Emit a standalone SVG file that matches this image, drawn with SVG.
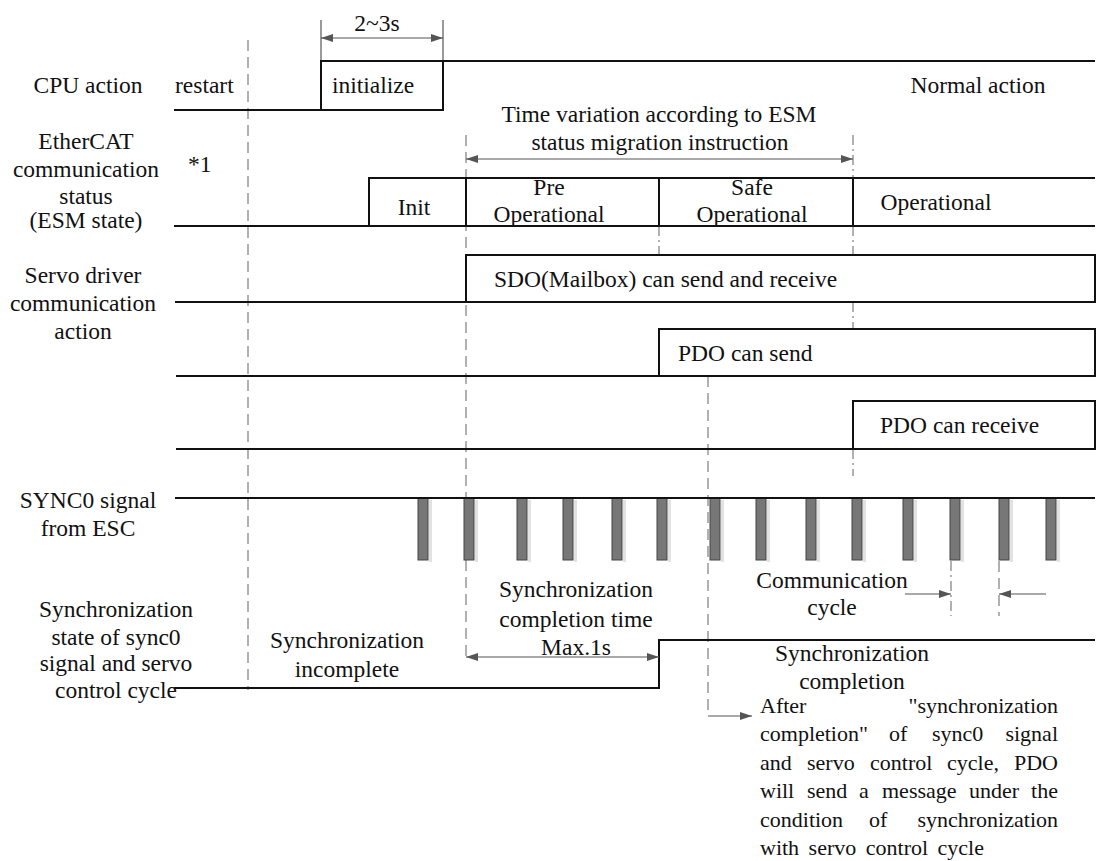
<svg xmlns="http://www.w3.org/2000/svg" width="1097" height="861" viewBox="0 0 1097 861">
<style>
text{font-size:23.5px;fill:#111}
.p{font-size:22px}
.m{text-anchor:middle}
.e{text-anchor:end}
.sig{fill:none;stroke:#111;stroke-width:2}
.dash{stroke:#888;stroke-width:1.3;stroke-dasharray:11 6;fill:none}
.dd{stroke:#888;stroke-width:1.3;stroke-dasharray:10 4 2 4;fill:none}
.dim{stroke:#555;stroke-width:1.2;fill:none}
.pulse{fill:#777;stroke:#444;stroke-width:1}
.shadow{fill:#e2e2e2}
</style>
<defs>
<marker id="ah" viewBox="0 0 12 8" refX="12" refY="4" markerWidth="12" markerHeight="8" markerUnits="userSpaceOnUse" orient="auto-start-reverse">
<path d="M0,0 L12,4 L0,8 z" fill="#555"/>
</marker>
</defs>
<g font-family="Liberation Serif, Times New Roman, serif">
<g id="guides">
<line class="dash" x1="248" y1="40" x2="248" y2="690"/>
<line class="dash" x1="466" y1="135" x2="466" y2="657"/>
<line class="dd" x1="659" y1="226" x2="659" y2="256"/>
<line class="dd" x1="853" y1="135" x2="853" y2="178"/>
<line class="dd" x1="853" y1="226" x2="853" y2="255"/>
<line class="dd" x1="853" y1="302" x2="853" y2="329"/>
<line class="dd" x1="853" y1="449" x2="853" y2="476"/>
<line class="dash" x1="708" y1="376" x2="708" y2="716"/>
<line class="dd" x1="951" y1="561" x2="951" y2="616"/>
<line class="dash" x1="999" y1="561" x2="999" y2="616"/>
<line class="dim" x1="321" y1="20" x2="321" y2="61"/>
<line class="dim" x1="443" y1="20" x2="443" y2="61"/>
</g>

<g id="cpu-action">
<polyline class="sig" points="174,110 443,110 443,61"/>
<polyline class="sig" points="321,110 321,61 1095,61"/>
<text class="m" x="88" y="93">CPU action</text>
<text x="175" y="93">restart</text>
<text x="332" y="93">initialize</text>
<text class="m" x="978" y="93">Normal action</text>
</g>

<g id="esm-state">
<line class="sig" x1="174" y1="226" x2="1095" y2="226"/>
<polyline class="sig" points="369,226 369,178 1095,178"/>
<line class="sig" x1="466" y1="178" x2="466" y2="226"/>
<line class="sig" x1="659" y1="178" x2="659" y2="226"/>
<line class="sig" x1="853" y1="178" x2="853" y2="226"/>
<text class="m" x="86" y="149">EtherCAT</text>
<text class="m" x="86" y="177">communication</text>
<text class="m" x="86" y="204">status</text>
<text class="m" x="86" y="228">(ESM state)</text>
<text x="188" y="172">*1</text>
<text class="m" x="414" y="215">Init</text>
<text class="m" x="549" y="195">Pre</text>
<text class="m" x="549" y="222">Operational</text>
<text class="m" x="752" y="195">Safe</text>
<text class="m" x="752" y="222">Operational</text>
<text class="m" x="936" y="210">Operational</text>
</g>

<g id="servo-comm">
<line class="sig" x1="175" y1="302" x2="466" y2="302"/>
<rect class="sig" x="466" y="255" width="629" height="47"/>
<line class="sig" x1="176" y1="376" x2="659" y2="376"/>
<rect class="sig" x="659" y="329" width="436" height="47"/>
<line class="sig" x1="176" y1="449" x2="853" y2="449"/>
<rect class="sig" x="853" y="401" width="242" height="48"/>
<text class="m" x="83" y="283">Servo driver</text>
<text class="m" x="83" y="311">communication</text>
<text class="m" x="83" y="339">action</text>
<text x="494" y="287">SDO(Mailbox) can send and receive</text>
<text x="678" y="361">PDO can send</text>
<text x="880" y="433">PDO can receive</text>
</g>

<g id="sync0">
<g class="shadow">
<rect x="429" y="500" width="3" height="62"/><rect x="475" y="500" width="3" height="62"/><rect x="528" y="500" width="3" height="62"/><rect x="574" y="500" width="3" height="62"/><rect x="623" y="500" width="3" height="62"/><rect x="668" y="500" width="3" height="62"/><rect x="721" y="500" width="3" height="62"/><rect x="767" y="500" width="3" height="62"/><rect x="817" y="500" width="3" height="62"/><rect x="863" y="500" width="3" height="62"/><rect x="914" y="500" width="3" height="62"/><rect x="961" y="500" width="3" height="62"/><rect x="1010" y="500" width="3" height="62"/><rect x="1057" y="500" width="3" height="62"/>
</g>
<g class="pulse">
<rect x="418" y="498" width="10" height="62"/><rect x="464" y="498" width="10" height="62"/><rect x="517" y="498" width="10" height="62"/><rect x="563" y="498" width="10" height="62"/><rect x="612" y="498" width="10" height="62"/><rect x="657" y="498" width="10" height="62"/><rect x="710" y="498" width="10" height="62"/><rect x="756" y="498" width="10" height="62"/><rect x="806" y="498" width="10" height="62"/><rect x="852" y="498" width="10" height="62"/><rect x="903" y="498" width="10" height="62"/><rect x="950" y="498" width="10" height="62"/><rect x="999" y="498" width="10" height="62"/><rect x="1046" y="498" width="10" height="62"/>
</g>
<line class="sig" x1="175" y1="498" x2="1095" y2="498"/>
<text class="m" x="88" y="508">SYNC0 signal</text>
<text class="m" x="88" y="536">from ESC</text>
<text class="m" x="832" y="588">Communication</text>
<text class="m" x="832" y="615">cycle</text>
</g>

<g id="sync-state">
<polyline class="sig" points="174,688 659,688 659,640 1095,640"/>
<text class="m" x="116" y="617">Synchronization</text>
<text class="m" x="116" y="645">state of sync0</text>
<text class="m" x="116" y="671">signal and servo</text>
<text class="m" x="116" y="698">control cycle</text>
<text class="m" x="347" y="648">Synchronization</text>
<text class="m" x="347" y="677">incomplete</text>
<text class="m" x="576" y="597">Synchronization</text>
<text class="m" x="576" y="627">completion time</text>
<text class="m" x="576" y="655">Max.1s</text>
<text class="m" x="852" y="661">Synchronization</text>
<text class="m" x="852" y="689">completion</text>
</g>

<g id="note">
<text class="p" x="760" y="713">After</text>
<text class="p e" x="1058" y="713">"synchronization</text>
<text class="p" x="760" y="741">completion"</text>
<text class="p" x="889" y="741">of</text>
<text class="p" x="932" y="741">sync0</text>
<text class="p e" x="1058" y="741">signal</text>
<text class="p" x="760" y="770">and</text>
<text class="p" x="807" y="770">servo</text>
<text class="p" x="870" y="770">control</text>
<text class="p" x="947" y="770">cycle,</text>
<text class="p e" x="1058" y="770">PDO</text>
<text class="p" x="760" y="798">will</text>
<text class="p" x="807" y="798">send</text>
<text class="p" x="859" y="798">a</text>
<text class="p" x="882" y="798">message</text>
<text class="p" x="969" y="798">under</text>
<text class="p e" x="1058" y="798">the</text>
<text class="p" x="760" y="827">condition</text>
<text class="p" x="869" y="827">of</text>
<text class="p e" x="1058" y="827">synchronization</text>
<text class="p" x="760" y="855" word-spacing="4">with servo control cycle</text>
</g>

<g id="connectors">
<line class="dim" x1="321" y1="38" x2="443" y2="38" marker-start="url(#ah)" marker-end="url(#ah)"/>
<text class="m" x="377" y="31">2~3s</text>
<line class="dim" x1="466" y1="159" x2="853" y2="159" marker-start="url(#ah)" marker-end="url(#ah)"/>
<text class="m" x="659" y="122">Time variation according to ESM</text>
<text class="m" x="660" y="150">status migration instruction</text>
<line class="dim" x1="466" y1="657" x2="659" y2="657" marker-start="url(#ah)" marker-end="url(#ah)"/>
<line class="dim" x1="905" y1="594" x2="951" y2="594" marker-end="url(#ah)"/>
<line class="dim" x1="1046" y1="594" x2="999" y2="594" marker-end="url(#ah)"/>
<line class="dim" x1="708" y1="716" x2="752" y2="716" marker-end="url(#ah)"/>
</g>
</g>
</svg>
